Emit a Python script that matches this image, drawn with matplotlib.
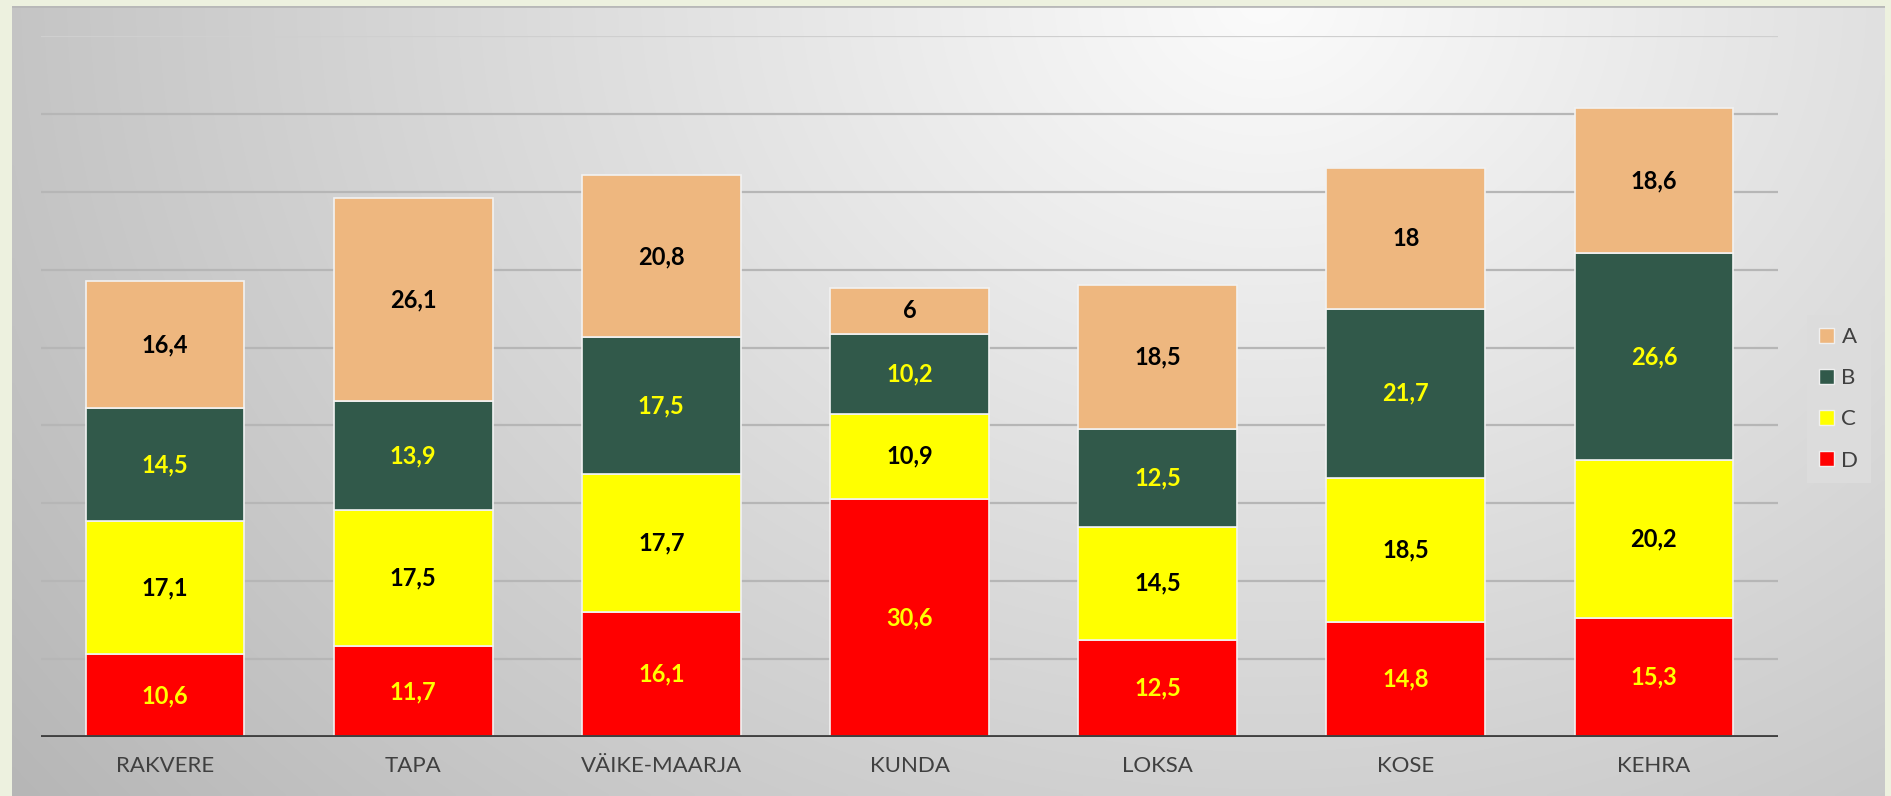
import numpy as np
import matplotlib
matplotlib.use("Agg")
import matplotlib.pyplot as plt
from matplotlib.patches import Patch

categories = ["RAKVERE", "TAPA", "VÄIKE-MAARJA", "KUNDA", "LOKSA", "KOSE", "KEHRA"]
series_names = ["A", "B", "C", "D"]
D = [10.6, 11.7, 16.1, 30.6, 12.5, 14.8, 15.3]
C = [17.1, 17.5, 17.7, 10.9, 14.5, 18.5, 20.2]
B = [14.5, 13.9, 17.5, 10.2, 12.5, 21.7, 26.6]
A = [16.4, 26.1, 20.8, 6, 18.5, 18, 18.6]
label_strings = {
    "D": ["10,6", "11,7", "16,1", "30,6", "12,5", "14,8", "15,3"],
    "C": ["17,1", "17,5", "17,7", "10,9", "14,5", "18,5", "20,2"],
    "B": ["14,5", "13,9", "17,5", "10,2", "12,5", "21,7", "26,6"],
    "A": ["16,4", "26,1", "20,8", "6", "18,5", "18", "18,6"],
}

colors = {"A": "#EEB77F", "B": "#31594A", "C": "#FFFF00", "D": "#FF0000"}
text_colors = {"A": "black", "B": "#FFFF00", "C": "black", "D": "#FFFF00"}

W, H = 1891, 796
fig = plt.figure(figsize=(W / 100, H / 100), dpi=100)
fig.patch.set_facecolor("#EDF1DF")

# gradient panel
px0, px1, py0 = 12, 1885, 6
bg = fig.add_axes([px0 / W, 0, (px1 - px0) / W, (H - py0) / H])
bg.set_axis_off()
xs = np.linspace(px0, px1, 400)
ys = np.linspace(py0, H, 200)
X, Y = np.meshgrid(xs, ys)
r = np.sqrt(((X - 1266) / 1350) ** 2 + ((Y - 0) / 1100) ** 2)
v = 0.985 - 0.23 * np.clip(r, 0, 1.2)
img = np.dstack([v, v, v])
bg.imshow(img, aspect="auto", extent=[0, 1, 0, 1], interpolation="bilinear")
bg.set_xlim(0, 1)
bg.set_ylim(0, 1)
bg.plot([0, 1], [1, 1], color="#b8b8b8", lw=2, transform=bg.transAxes)

ax = fig.add_axes([41 / W, 1 - 737 / H, (1778 - 41) / W, (737 - 36) / H])
ax.set_facecolor("none")
ax.set_xlim(-0.5, 6.5)
ax.set_ylim(0, 90)
for yv in range(10, 91, 10):
    ax.axhline(yv, color="#cfcfcf" if yv == 90 else "#b6b6b6", lw=1.6, zorder=0)

x = np.arange(len(categories))
bottom = np.zeros(len(categories))
for name, vals in [("D", D), ("C", C), ("B", B), ("A", A)]:
    vals = np.array(vals)
    ax.bar(x, vals, 0.64, bottom=bottom, color=colors[name],
           edgecolor="#f2f2f2", linewidth=1.2, zorder=2)
    for xi, b, val, s in zip(x, bottom, vals, label_strings[name]):
        ax.text(xi, b + val / 2, s, ha="center", va="center",
                fontsize=17, fontweight="bold", color=text_colors[name],
                family="Lato", zorder=3)
    bottom += vals

ax.axhline(0, color="#404040", lw=3.5, zorder=4)
for sp in ax.spines.values():
    sp.set_visible(False)
ax.set_yticks([])
ax.set_xticks(x)
ax.set_xticklabels(categories, fontsize=16, color="#404040", family="Lato")
ax.tick_params(axis="x", length=0, pad=14)

handles = [Patch(facecolor=colors[n], edgecolor="#f0f0f0", label=n) for n in series_names]
leg = fig.legend(handles=handles, loc="upper left",
                 bbox_to_anchor=(1807 / W, 1 - 315 / H), borderaxespad=0,
                 frameon=True, fancybox=False, handlelength=0.65, handleheight=0.65,
                 handletextpad=0.35, labelspacing=0.95, borderpad=0.55,
                 prop={"family": "Lato", "size": 16})
leg.get_frame().set_facecolor("#dcdcdc")
leg.get_frame().set_edgecolor("none")
leg.get_frame().set_alpha(1)
for t in leg.get_texts():
    t.set_color("#404040")

fig.savefig("out.png", dpi=100, facecolor=fig.get_facecolor())
